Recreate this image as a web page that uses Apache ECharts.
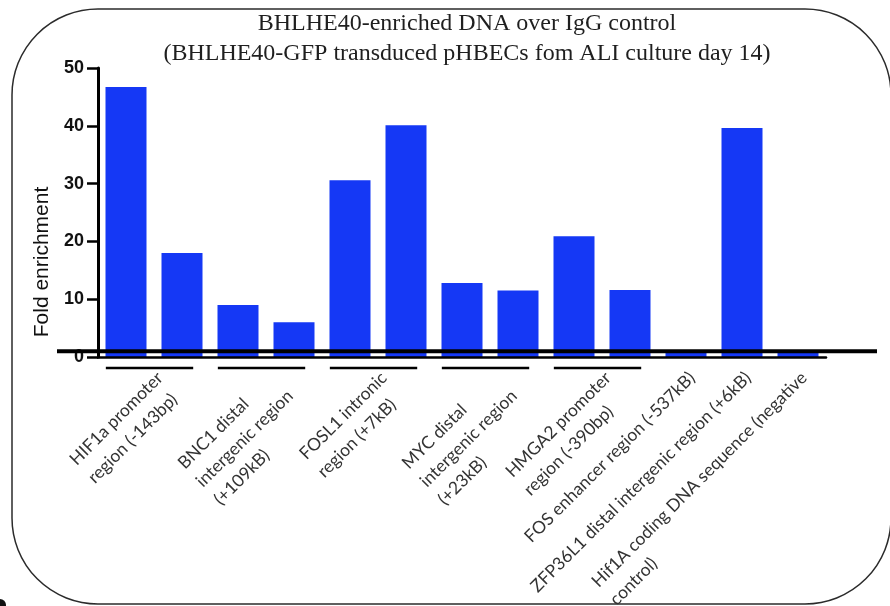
<!DOCTYPE html>
<html>
<head>
<meta charset="utf-8">
<script src="https://cdn.jsdelivr.net/npm/echarts/dist/echarts.min.js"></script>
<style>
  html, body { margin: 0; padding: 0; background: #ffffff; }
  #chart { width: 890px; height: 606px; }
</style>
</head>
<body>
<div id="chart"></div>
<script>
// Chart text
const titleLines = [
  'BHLHE40-enriched DNA over IgG control',
  '(BHLHE40-GFP transduced pHBECs fom ALI culture day 14)'
];
const yAxisTitle = 'Fold enrichment';

// Genomic regions (one label per region), and how many bars each region has
const regionLabels = [
  'HIF1a promoter\nregion (-143bp)',
  'BNC1 distal\nintergenic region\n(+109kB)',
  'FOSL1 intronic\nregion (+7kB)',
  'MYC distal\nintergenic region\n(+23kB)',
  'HMGA2 promoter\nregion (-390bp)',
  'FOS enhancer region (-537kB)',
  'ZFP36L1 distal intergenic region (+6kB)',
  'Hif1A coding DNA sequence (negative\ncontrol)'
];
const barsPerRegion = [2, 2, 2, 2, 2, 1, 1, 1];

// Fold enrichment of each bar, in region order
const foldEnrichment = [46.7, 18.0, 9.0, 6.0, 30.6, 40.1, 12.8, 11.5, 20.9, 11.6, 1.0, 39.6, 1.0];

// IgG control level (reference line)
const iggLevel = 1;

// Value axis ticks
const yMin = 0;
const yMax = 50;
const yStep = 10;

// One category per bar
const barCategories = [];
regionLabels.forEach((label, r) => {
  const base = label.replace(/\n/g, ' ');
  for (let k = 0; k < barsPerRegion[r]; k++) {
    barCategories.push(barsPerRegion[r] > 1 ? base + ' #' + (k + 1) : base);
  }
});

const chart = echarts.init(document.getElementById('chart'), null, { renderer: 'canvas' });

const sansFont = '"Liberation Sans", Arial, Helvetica, sans-serif';
const labelFont = 'Lato, "Open Sans", sans-serif';
const serifFont = '"Liberation Serif", "Times New Roman", serif';

chart.setOption({
  animation: false,
  backgroundColor: '#ffffff',
  grid: { left: 98, right: 64, top: 68, bottom: 249, containLabel: false },
  xAxis: {
    type: 'category',
    data: barCategories,
    z: 5,
    axisLine: { show: true, lineStyle: { color: '#000000', width: 2.5 } },
    axisTick: { show: false },
    axisLabel: { show: false },
    splitLine: { show: false }
  },
  yAxis: {
    type: 'value',
    min: yMin,
    max: yMax,
    interval: yStep,
    axisLine: { show: true, lineStyle: { color: '#000000', width: 3 } },
    axisTick: { show: true, inside: false, length: 11, lineStyle: { color: '#000000', width: 2.5 } },
    axisLabel: { color: '#111111', fontFamily: sansFont, fontWeight: 'bold', fontSize: 18, margin: 14 },
    splitLine: { show: false }
  },
  series: [{
    type: 'bar',
    data: foldEnrichment,
    barWidth: 41,
    itemStyle: { color: '#1538f5' }
  }]
});

// Decorations placed through the axes' own scales
const xPix = (i) => chart.convertToPixel({ xAxisIndex: 0 }, barCategories[i]);
const yPix = (v) => chart.convertToPixel({ yAxisIndex: 0 }, v);

const band = xPix(1) - xPix(0);
const axisY = yPix(yMin);
const gridLeft = xPix(0) - band / 2;
const gridRight = xPix(barCategories.length - 1) + band / 2;

const graphics = [];

// Rounded frame around the figure
graphics.push({
  type: 'rect',
  z: 0,
  shape: { x: 12, y: 9, width: 879, height: 595, r: 86 },
  style: { fill: 'none', stroke: '#2b2b2b', lineWidth: 1.5 }
});

// Title
titleLines.forEach((line, i) => {
  graphics.push({
    type: 'text',
    z: 10,
    x: 467,
    y: 24 + i * 30,
    style: {
      text: line,
      font: '24px ' + serifFont,
      fill: '#1f1f1f',
      align: 'center',
      verticalAlign: 'middle'
    }
  });
});

// Y axis title
graphics.push({
  type: 'text',
  z: 10,
  x: 42,
  y: 262,
  rotation: Math.PI / 2,
  style: {
    text: yAxisTitle,
    font: '21px ' + sansFont,
    fill: '#111111',
    align: 'center',
    verticalAlign: 'middle'
  }
});

// IgG control reference line
const iggY = yPix(iggLevel);
graphics.push({
  type: 'line',
  z: 20,
  shape: { x1: gridLeft - 41, y1: iggY, x2: gridRight + 51, y2: iggY },
  style: { stroke: '#000000', lineWidth: 4 }
});

// Region underlines and rotated region labels
let barIndex = 0;
regionLabels.forEach((label, r) => {
  const n = barsPerRegion[r];
  const first = xPix(barIndex);
  const last = xPix(barIndex + n - 1);
  const gx = (first + last) / 2;
  if (n > 1) {
    graphics.push({
      type: 'line',
      z: 20,
      shape: { x1: first - band * 0.36, y1: axisY + 11, x2: last + band * 0.2, y2: axisY + 11 },
      style: { stroke: '#000000', lineWidth: 2.5 }
    });
  }
  const richText = label.split('\n').map((s) => '{l|' + s + '}').join('\n');
  graphics.push({
    type: 'text',
    z: 20,
    x: gx - 3,
    y: axisY + 9,
    rotation: Math.PI / 4,
    style: {
      text: richText,
      align: 'right',
      verticalAlign: 'top',
      font: '17.5px ' + labelFont,
      fill: '#333333',
      rich: {
        l: { align: 'left', fontFamily: labelFont, fontSize: 17.5, lineHeight: 25.5, fill: '#333333' }
      }
    }
  });
  barIndex += n;
});

// Dark mark at the lower-left edge
graphics.push({
  type: 'circle',
  z: 20,
  shape: { cx: 0, cy: 605, r: 6 },
  style: { fill: '#111111' }
});

chart.setOption({ graphic: graphics });
</script>
</body>
</html>
